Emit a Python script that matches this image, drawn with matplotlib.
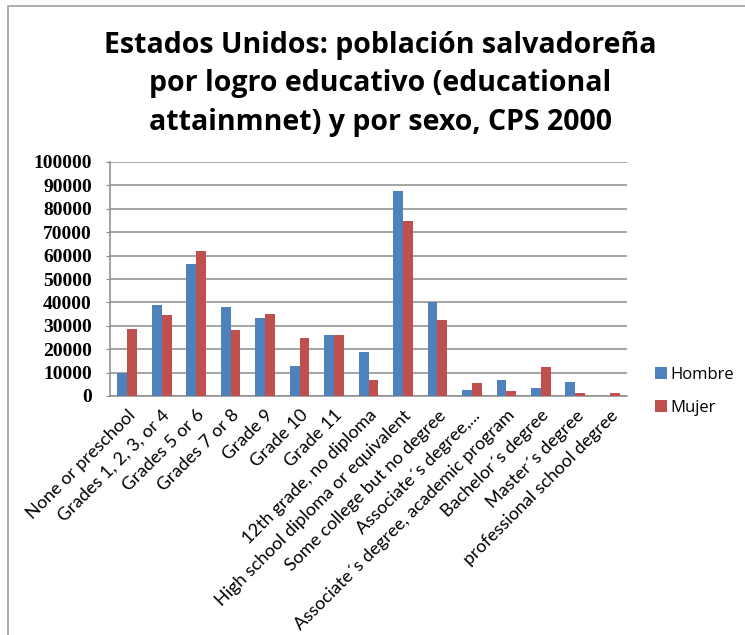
import matplotlib.pyplot as plt
import numpy as np
from matplotlib.patches import Rectangle


categories = [
    'None or preschool',
    'Grades 1, 2, 3, or 4',
    'Grades 5 or 6',
    'Grades 7 or 8',
    'Grade 9',
    'Grade 10',
    'Grade 11',
    '12th grade, no diploma',
    'High school diploma or equivalent',
    'Some college but no degree',
    'Associate\u00b4s degree,...',
    'Associate\u00b4s degree, academic program',
    'Bachelor\u00b4s degree',
    'Master\u00b4s degree',
    'professional school degree',
]
hombre = [9700, 38900, 56600, 38100, 33400, 12800, 26000, 19000,
          87700, 40200, 2700, 6800, 3600, 5800, 0]
mujer = [28700, 34800, 61800, 28200, 35200, 25000, 26000, 6800,
         74900, 32400, 5400, 2300, 12400, 1300, 1100]
series_names = ['Hombre', 'Mujer']
yticks = list(range(0, 100001, 10000))

title = ('Estados Unidos: población salvadoreña\n'
         'por logro educativo (educational\n'
         'attainmnet) y por sexo, CPS 2000')

BLUE = '#4F81BD'
RED = '#C0504D'
GRID = '#8C8C8C'

plt.rcParams['font.family'] = ['Lato', 'DejaVu Sans']

fig = plt.figure(figsize=(7.45, 6.35), dpi=100)
W, H = 745, 635

# chart area border (only top and left edges fall inside the image)
fig.patches.append(Rectangle((8 / W, -0.1), 1.2, (H - 6) / H + 0.1,
                             transform=fig.transFigure, fill=False,
                             edgecolor='#A0A0A0', linewidth=1.2))

ax = fig.add_axes([110 / W, (H - 396) / H, 517 / W, 234 / H])

x = np.arange(len(categories))
bw = 1 / 3.5
ax.bar(x - bw / 2, hombre, width=bw, color=BLUE, label=series_names[0], zorder=3)
ax.bar(x + bw / 2, mujer, width=bw, color=RED, label=series_names[1], zorder=3)

ax.set_xlim(-0.5, len(categories) - 0.5)
ax.set_ylim(0, 100000)
ax.set_yticks(yticks)
ax.set_yticklabels([str(v) for v in yticks], family='Liberation Serif',
                   fontweight='bold', fontsize=14)
ax.yaxis.grid(True, color=GRID, linewidth=1.1, zorder=0)
ax.tick_params(axis='y', length=3, color=GRID, pad=10)

ax.set_xticks(x)
ax.set_xticklabels(categories, rotation=45, ha='right', rotation_mode='anchor',
                   fontsize=13)
ax.tick_params(axis='x', length=0, pad=8)

for s in ('top', 'right'):
    ax.spines[s].set_visible(False)
for s in ('left', 'bottom'):
    ax.spines[s].set_color(GRID)
    ax.spines[s].set_linewidth(1.1)

leg = fig.legend(loc='upper left', bbox_to_anchor=(640 / W, 1 - 352 / H),
                 frameon=False, prop={'family': 'Open Sans', 'size': 12},
                 handlelength=0.7, handleheight=0.7, handletextpad=0.25,
                 labelspacing=1.0)

fig.text(380 / W, 1 - 84 / H, title, ha='center', va='center',
         family='Open Sans', fontsize=20.5, fontweight='bold',
         linespacing=1.42)

fig.savefig('out.png', dpi=100)
